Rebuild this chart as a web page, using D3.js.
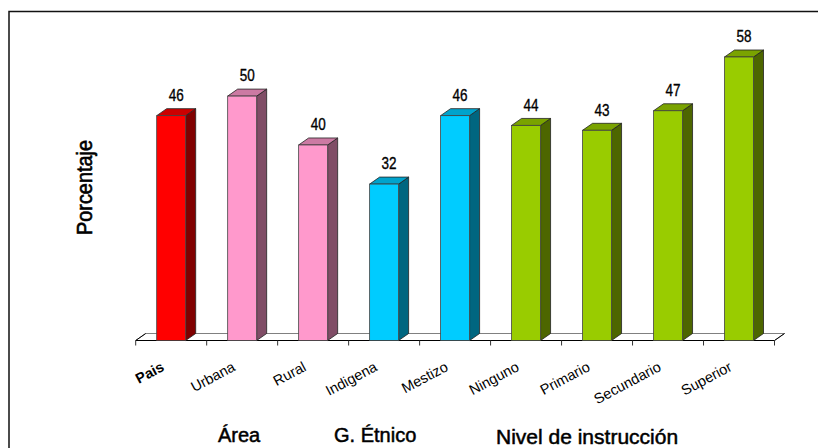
<html lang="en">
<head>
<meta charset="utf-8">
<title>Porcentaje</title>
<script src="https://cdn.jsdelivr.net/npm/d3@7"></script>
<style>
body { margin: 0; background: white; }
text { font-family: "Liberation Sans", Arial, sans-serif; fill: black; }
</style>
</head>
<body></body>
<script type="text/javascript">

// Data
var categories = ["Pais", "Urbana", "Rural", "Indigena", "Mestizo", "Ninguno", "Primario", "Secundario", "Superior"];
var values = [46, 50, 40, 32, 46, 44, 43, 47, 58];
var groups = ["pais", "area", "area", "etnico", "etnico", "nivel", "nivel", "nivel", "nivel"];
var groupNames = ["pais", "area", "etnico", "nivel"];
var frontColors = ["#ff0000", "#ff99cc", "#00ccff", "#99cc00"];
var topColors = ["#cc0000", "#cc7aa3", "#00a3cc", "#7aa300"];
var sideColors = ["#800000", "#804d66", "#006680", "#4d6600"];
var groupTitles = ["Área", "G. Étnico", "Nivel de instrucción"];

var width = 818, height = 448;
var depth = { x: 10, y: 7 };

var canvas = d3.select("body").append("svg")
    .attr("width", width)
    .attr("height", height);

// Frame: only the top and left edges show in the picture
canvas.append("path")
    .attr("d", "M9,448V11.5H818")
    .attr("fill", "none")
    .attr("stroke", "#111111")
    .attr("stroke-width", 1.5);

// Scales
var x = d3.scaleBand().domain(categories).range([135.7, 774.5]).paddingInner(0).paddingOuter(0);
var y = d3.scaleLinear().domain([0, 58]).range([340.5, 57]);
var barWidth = 29;

var front = d3.scaleOrdinal().domain(groupNames).range(frontColors);
var top_ = d3.scaleOrdinal().domain(groupNames).range(topColors);
var side = d3.scaleOrdinal().domain(groupNames).range(sideColors);

// Floor
var x0 = x.range()[0], x1 = x.range()[1], y0 = y(0);
canvas.append("path")
    .attr("d", "M" + x0 + "," + y0 + "L" + (x0 + depth.x) + "," + (y0 - depth.y) +
               "L" + (x1 + depth.x) + "," + (y0 - depth.y) + "L" + x1 + "," + y0)
    .attr("fill", "white")
    .attr("stroke", "#808080")
    .attr("stroke-width", 1);
canvas.append("path")
    .attr("d", "M" + x0 + "," + y0 + "L" + (x0 + depth.x) + "," + (y0 - depth.y) +
               "M" + x1 + "," + y0 + "L" + (x1 + depth.x) + "," + (y0 - depth.y))
    .attr("fill", "none")
    .attr("stroke", "black")
    .attr("stroke-width", 1);

// Axis
var axis = canvas.append("g").attr("transform", "translate(0," + y0 + ")");
axis.append("line").attr("x1", x0).attr("x2", x1).attr("stroke", "black").attr("stroke-width", 1.2);
var tickPos = categories.map(function(c) { return x(c); }).concat([x1]);
axis.selectAll("line.tick").data(tickPos).enter().append("line")
    .attr("class", "tick")
    .attr("x1", function(d) { return d; })
    .attr("x2", function(d) { return d; })
    .attr("y1", 0).attr("y2", 5)
    .attr("stroke", "#333333");

// Bars
var bars = canvas.selectAll("g.bar").data(categories).enter().append("g").attr("class", "bar")
    .attr("transform", function(d) { return "translate(" + (x(d) + (x.bandwidth() - barWidth) / 2) + ",0)"; });

bars.append("path")
    .attr("d", function(d, i) {
        return "M" + barWidth + "," + y(values[i]) + "l" + depth.x + "," + (-depth.y) +
               "L" + (barWidth + depth.x) + "," + (y0 - depth.y) + "L" + barWidth + "," + y0 + "Z";
    })
    .attr("fill", function(d, i) { return side(groups[i]); })
    .attr("stroke", "#222222").attr("stroke-width", 0.8);

bars.append("path")
    .attr("d", function(d, i) {
        return "M0," + y(values[i]) + "l" + depth.x + "," + (-depth.y) + "h" + barWidth +
               "l" + (-depth.x) + "," + depth.y + "Z";
    })
    .attr("fill", function(d, i) { return top_(groups[i]); })
    .attr("stroke", "#222222").attr("stroke-width", 0.8);

bars.append("rect")
    .attr("y", function(d, i) { return y(values[i]); })
    .attr("width", barWidth)
    .attr("height", function(d, i) { return y0 - y(values[i]); })
    .attr("fill", function(d, i) { return front(groups[i]); })
    .attr("stroke", "#444444").attr("stroke-width", 0.8);

// Value labels
bars.append("text")
    .attr("x", barWidth / 2 + 5)
    .attr("y", function(d, i) { return y(values[i]) - 14.7; })
    .attr("text-anchor", "middle")
    .style("font-size", "16px")
    .style("stroke", "black")
    .style("stroke-width", 0.35)
    .attr("textLength", 15)
    .attr("lengthAdjust", "spacingAndGlyphs")
    .text(function(d, i) { return values[i]; });

// Category labels
canvas.selectAll("text.cat").data(categories).enter().append("text")
    .attr("class", "cat")
    .attr("text-anchor", "end")
    .attr("transform", function(d) { return "translate(" + (x(d) + x.bandwidth() / 2 - 6) + ",370) rotate(-28)"; })
    .style("font-size", "14.5px")
    .style("font-weight", function(d, i) { return i === 0 ? "bold" : "normal"; })
    .text(function(d) { return d; });

// Titles
canvas.append("text")
    .attr("transform", "translate(92,235) rotate(-90)")
    .style("font-size", "22px")
    .style("stroke", "black")
    .style("stroke-width", 0.6)
    .attr("textLength", 95)
    .attr("lengthAdjust", "spacingAndGlyphs")
    .text("Porcentaje");

var titleX = [218, 334, 496];
var titleY = [442, 442, 444];
var titleSize = [20, 20, 21];
canvas.selectAll("text.group").data(groupTitles).enter().append("text")
    .attr("class", "group")
    .attr("x", function(d, i) { return titleX[i]; })
    .attr("y", function(d, i) { return titleY[i]; })
    .style("font-size", function(d, i) { return titleSize[i] + "px"; })
    .style("stroke", "black")
    .style("stroke-width", 0.5)
    .text(function(d) { return d; });

</script>
</html>
